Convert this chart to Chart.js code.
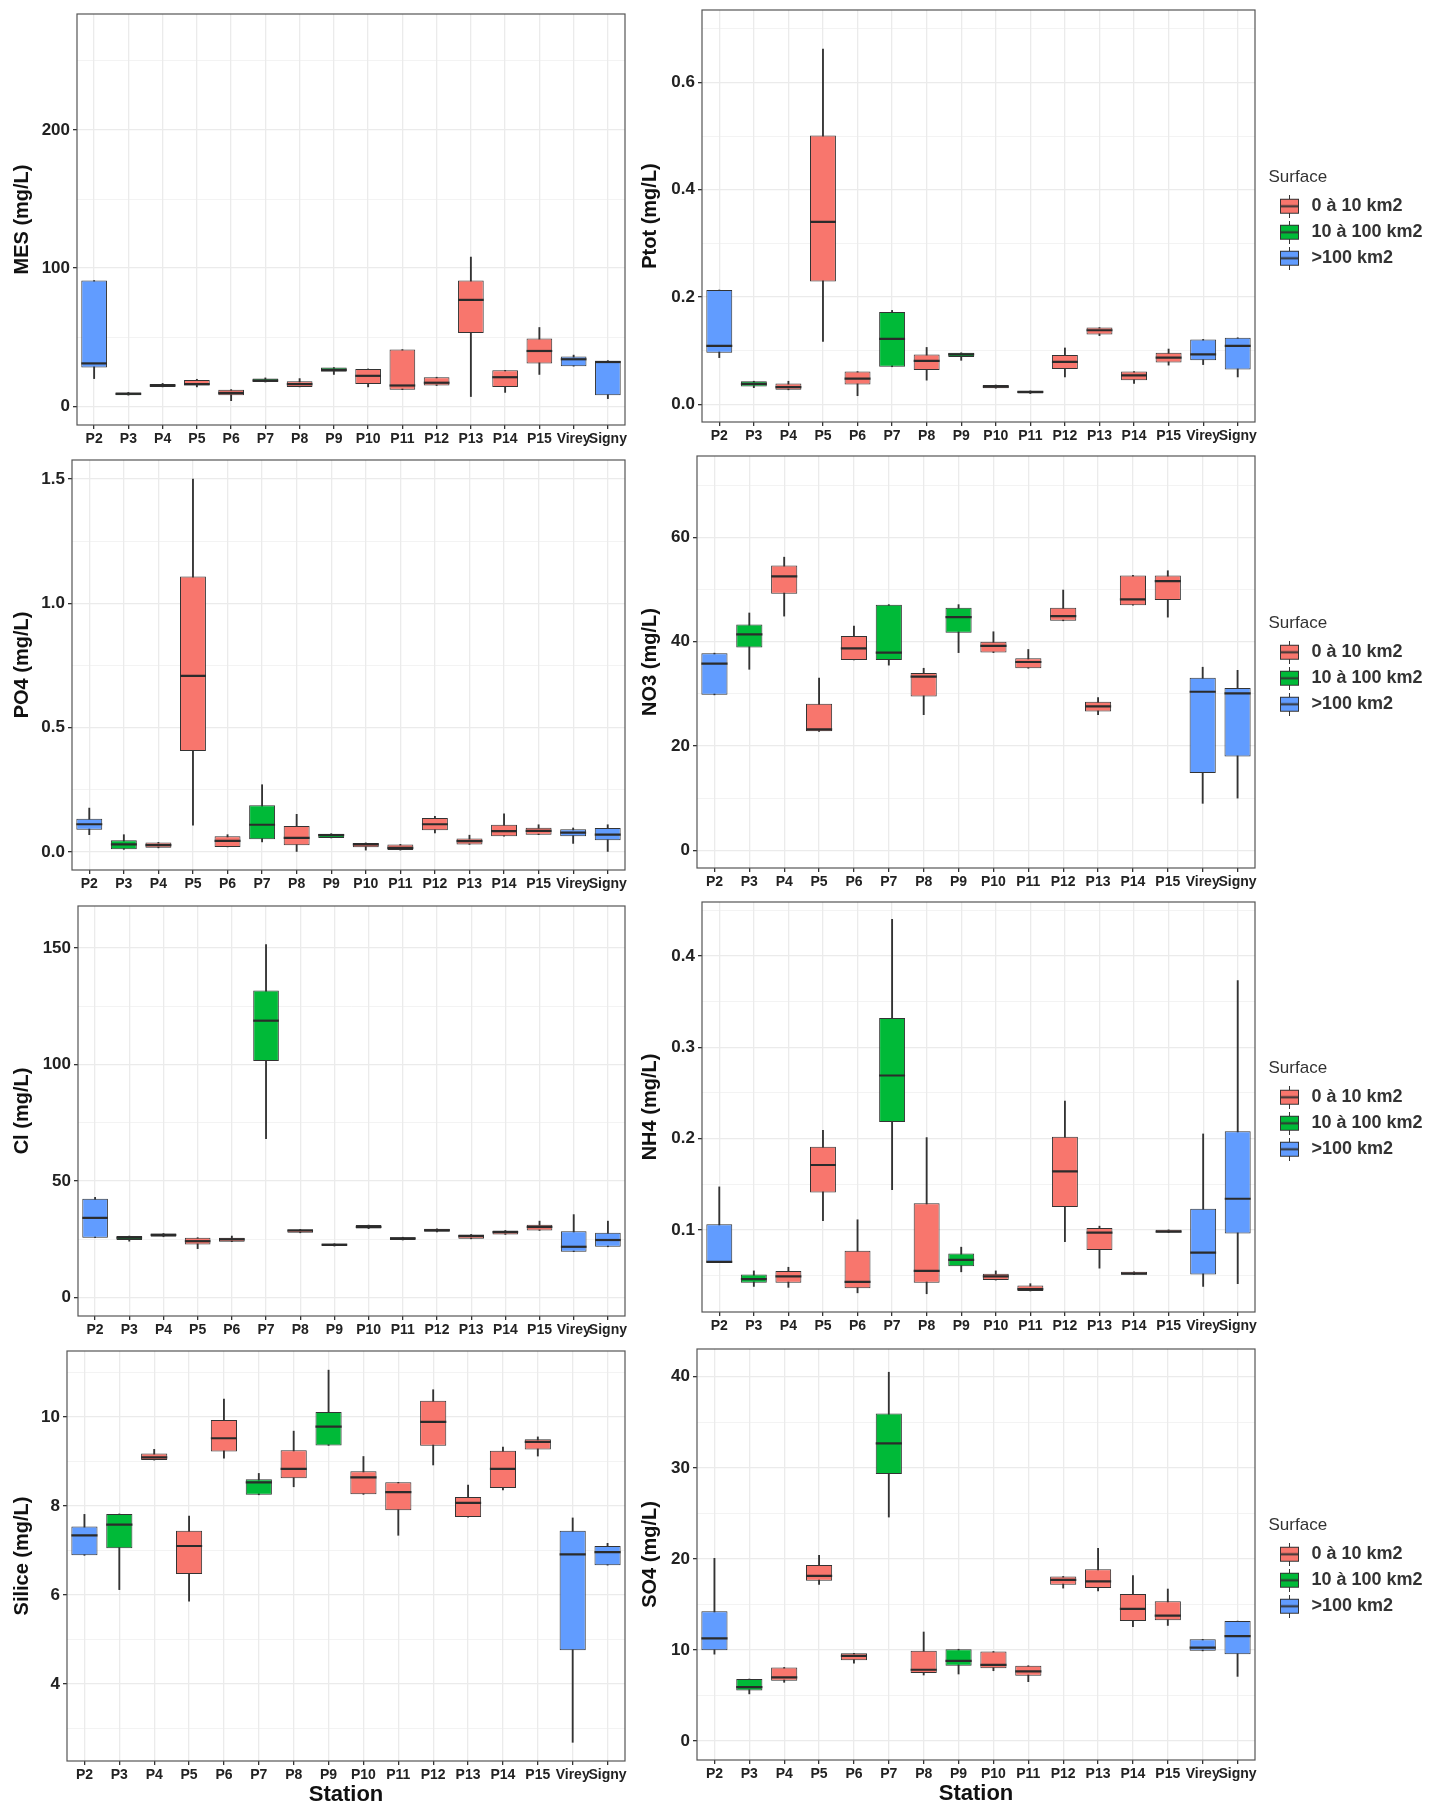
<!DOCTYPE html>
<html>
<head>
<meta charset="utf-8">
<title>Boxplots par station</title>
<script src="https://cdn.jsdelivr.net/npm/chart.js@4.4.1/dist/chart.umd.min.js"></script>
<style>
  body { margin: 0; background: #fff; }
  #fig { position: relative; width: 1437px; height: 1811px; overflow: hidden; }
  .panel { position: absolute; }
</style>
</head>
<body>
<div id="fig"></div>
<script>
// Stations (axe X) et classe de surface du bassin versant
const stations = ['P2', 'P3', 'P4', 'P5', 'P6', 'P7', 'P8', 'P9', 'P10', 'P11', 'P12', 'P13', 'P14', 'P15', 'Virey', 'Signy'];
const surfaceGroup = [2, 1, 0, 0, 0, 1, 0, 1, 0, 0, 0, 0, 0, 0, 2, 2];
const groupNames = ['0 à 10 km2', '10 à 100 km2', '>100 km2'];
const groupColors = ['#F8766D', '#00BA38', '#619CFF'];

// Résumés par station : [min, q1, médiane, q3, max]
const mes = [
  [20, 28, 31, 91, 91], [8, 8, 9, 10, 10], [14, 14, 15, 16, 16.5], [14, 15, 16, 19, 19.5],
  [4, 8, 9.6, 12, 12], [17.5, 17.5, 18.6, 20, 20.5], [14, 14, 16, 18, 20], [23, 25, 26.3, 28, 28],
  [14, 16, 22, 27, 27], [12, 12, 15, 41, 41], [15, 15, 17, 21, 21], [7, 53, 77, 91, 108],
  [10, 14, 21, 26, 26], [23, 31, 40, 49, 57], [29, 29, 34, 36, 37], [5.5, 8, 32, 33, 33]
];
const ptot = [
  [0.087, 0.096, 0.109, 0.213, 0.213], [0.031, 0.033, 0.038, 0.043, 0.043], [0.027, 0.027, 0.032, 0.039, 0.043], [0.117, 0.229, 0.340, 0.501, 0.662],
  [0.016, 0.037, 0.048, 0.061, 0.061], [0.070, 0.070, 0.122, 0.172, 0.175], [0.045, 0.064, 0.081, 0.093, 0.106], [0.082, 0.088, 0.093, 0.096, 0.096],
  [0.030, 0.030, 0.033, 0.036, 0.036], [0.020, 0.020, 0.023, 0.025, 0.025], [0.051, 0.066, 0.079, 0.092, 0.105], [0.128, 0.130, 0.138, 0.143, 0.143],
  [0.039, 0.045, 0.054, 0.061, 0.061], [0.073, 0.078, 0.087, 0.096, 0.103], [0.074, 0.082, 0.093, 0.121, 0.121], [0.051, 0.065, 0.109, 0.124, 0.124]
];
const po4 = [
  [0.07, 0.090, 0.112, 0.134, 0.177], [0.011, 0.011, 0.031, 0.048, 0.07], [0.017, 0.017, 0.028, 0.039, 0.039], [0.108, 0.407, 0.709, 1.108, 1.5],
  [0.021, 0.021, 0.045, 0.064, 0.07], [0.041, 0.052, 0.110, 0.188, 0.271], [0.0, 0.028, 0.057, 0.105, 0.152], [0.057, 0.057, 0.068, 0.074, 0.074],
  [0.008, 0.019, 0.031, 0.037, 0.037], [0.008, 0.008, 0.017, 0.031, 0.031], [0.077, 0.088, 0.112, 0.137, 0.144], [0.031, 0.031, 0.044, 0.055, 0.068],
  [0.064, 0.064, 0.084, 0.110, 0.154], [0.070, 0.070, 0.085, 0.098, 0.110], [0.035, 0.064, 0.078, 0.092, 0.097], [0.0, 0.048, 0.070, 0.097, 0.110]
];
const no3 = [
  [29.8, 29.8, 35.8, 37.8, 37.8], [34.7, 38.9, 41.4, 43.3, 45.5], [44.9, 49.2, 52.5, 54.6, 56.2], [22.8, 22.8, 23.2, 28.1, 33.0],
  [36.5, 36.5, 38.7, 41.1, 43.0], [35.5, 36.5, 37.9, 47.1, 47.1], [26.0, 29.5, 33.3, 34.0, 34.9], [37.9, 41.7, 44.7, 46.5, 47.1],
  [37.9, 37.9, 39.2, 40.0, 41.9], [34.9, 34.9, 36.1, 36.8, 38.5], [44.0, 44.0, 44.9, 46.5, 49.9], [26.0, 26.6, 27.6, 28.5, 29.3],
  [47.0, 47.0, 48.1, 52.7, 52.7], [44.7, 48.0, 51.6, 52.7, 53.6], [9.0, 14.8, 30.4, 33.1, 35.1], [10.0, 18.0, 30.1, 31.1, 34.5]
];
const cl = [
  [25.7, 25.7, 34.2, 42.4, 43], [24.2, 24.7, 25.7, 26.4, 26.4], [26.1, 26.1, 26.9, 27.5, 27.5], [21, 22.8, 24.2, 25.7, 25.7],
  [24, 24, 25, 25.7, 26.4], [68.2, 101.5, 118.8, 131.7, 151.4], [27.8, 27.8, 28.8, 29.2, 29.2], [22.1, 22.1, 22.7, 23.1, 23.1],
  [29.6, 29.6, 30.3, 31.1, 31.1], [24.7, 24.7, 25.4, 25.9, 25.9], [28.2, 28.2, 28.9, 29.5, 29.5], [25.2, 25.2, 26.4, 27.1, 27.1],
  [27.1, 27.1, 28.1, 28.8, 28.8], [28.8, 28.8, 30.3, 31.3, 32.8], [19.7, 19.7, 21.8, 28.5, 35.6], [21.8, 21.8, 24.7, 27.8, 32.8]
];
const nh4 = [
  [0.064, 0.064, 0.065, 0.106, 0.147], [0.038, 0.042, 0.046, 0.051, 0.055], [0.037, 0.042, 0.049, 0.055, 0.059], [0.110, 0.141, 0.171, 0.191, 0.209],
  [0.031, 0.036, 0.043, 0.077, 0.111], [0.144, 0.218, 0.269, 0.332, 0.440], [0.030, 0.042, 0.055, 0.129, 0.201], [0.054, 0.060, 0.067, 0.074, 0.081],
  [0.045, 0.045, 0.049, 0.052, 0.055], [0.033, 0.033, 0.035, 0.039, 0.041], [0.087, 0.125, 0.164, 0.202, 0.241], [0.058, 0.078, 0.097, 0.102, 0.104],
  [0.051, 0.051, 0.052, 0.054, 0.054], [0.097, 0.097, 0.098, 0.100, 0.100], [0.038, 0.051, 0.075, 0.123, 0.205], [0.041, 0.096, 0.134, 0.208, 0.373]
];
const silice = [
  [6.89, 6.89, 7.34, 7.54, 7.81], [6.12, 7.05, 7.58, 7.82, 7.82], [9.03, 9.03, 9.09, 9.18, 9.27], [5.86, 6.47, 7.10, 7.44, 7.77],
  [9.07, 9.22, 9.52, 9.93, 10.40], [8.25, 8.25, 8.53, 8.60, 8.73], [8.43, 8.62, 8.83, 9.25, 9.68], [9.36, 9.36, 9.78, 10.11, 11.05],
  [8.26, 8.26, 8.64, 8.78, 9.11], [7.34, 7.90, 8.31, 8.53, 8.53], [8.92, 9.35, 9.89, 10.36, 10.61], [7.75, 7.75, 8.07, 8.20, 8.47],
  [8.36, 8.40, 8.83, 9.24, 9.32], [9.12, 9.27, 9.44, 9.50, 9.55], [2.69, 4.76, 6.91, 7.44, 7.73], [6.67, 6.67, 6.96, 7.10, 7.16]
];
const so4 = [
  [9.55, 9.98, 11.29, 14.26, 20.07], [5.19, 5.55, 5.92, 6.82, 6.82], [6.46, 6.64, 7.0, 8.09, 8.09], [17.2, 17.6, 18.15, 19.35, 20.4],
  [8.57, 8.89, 9.36, 9.65, 9.65], [24.6, 29.33, 32.7, 35.97, 40.5], [7.26, 7.48, 7.84, 9.91, 11.98], [7.37, 8.28, 8.82, 10.09, 10.09],
  [7.73, 7.99, 8.38, 9.84, 9.84], [6.53, 7.19, 7.66, 8.28, 8.28], [16.8, 17.17, 17.71, 18.08, 18.08], [16.5, 16.8, 17.53, 18.87, 21.16],
  [12.56, 13.18, 14.52, 16.15, 18.18], [12.7, 13.28, 13.79, 15.35, 16.7], [9.91, 9.91, 10.27, 11.18, 11.18], [7.11, 9.55, 11.54, 13.18, 13.18]
];

// Graduations : principales (avec étiquette) et secondaires (grille fine)
const mesTicks = [0, 100, 200],            mesMinor = [50, 150, 250];
const ptotTicks = [0, 0.2, 0.4, 0.6],      ptotMinor = [0.1, 0.3, 0.5, 0.7];
const po4Ticks = [0, 0.5, 1, 1.5],         po4Minor = [0.25, 0.75, 1.25];
const no3Ticks = [0, 20, 40, 60],          no3Minor = [10, 30, 50, 70];
const clTicks = [0, 50, 100, 150],         clMinor = [25, 75, 125];
const nh4Ticks = [0.1, 0.2, 0.3, 0.4],     nh4Minor = [0.05, 0.15, 0.25, 0.35, 0.45];
const siliceTicks = [4, 6, 8, 10],         siliceMinor = [3, 5, 7, 9, 11];
const so4Ticks = [0, 10, 20, 30, 40],      so4Minor = [5, 15, 25, 35];

const sans = "'Liberation Sans', Arial, sans-serif";
const narrow = "'Liberation Sans Narrow', 'Liberation Sans', Arial, sans-serif";
Chart.defaults.font.family = sans;

// Mise en page des panneaux (zone de tracé en pixels de la page)
const panels = [
  { title: 'MES (mg/L)',  stats: mes,    major: mesTicks,    minor: mesMinor,    min: -13.6,  max: 284,   dec: 0, col: 0, left: 77,  top: 14,   bottom: 425 },
  { title: 'Ptot (mg/L)', stats: ptot,   major: ptotTicks,   minor: ptotMinor,   min: -0.033, max: 0.735, dec: 1, col: 1, left: 702, top: 10,   bottom: 422 },
  { title: 'PO4 (mg/L)',  stats: po4,    major: po4Ticks,    minor: po4Minor,    min: -0.072, max: 1.577, dec: 1, col: 0, left: 72,  top: 460,  bottom: 870 },
  { title: 'NO3 (mg/L)',  stats: no3,    major: no3Ticks,    minor: no3Minor,    min: -3.4,   max: 75.6,  dec: 0, col: 1, left: 697, top: 456,  bottom: 868 },
  { title: 'Cl (mg/L)',   stats: cl,     major: clTicks,     minor: clMinor,     min: -7.9,   max: 168,   dec: 0, col: 0, left: 78,  top: 906,  bottom: 1316 },
  { title: 'NH4 (mg/L)',  stats: nh4,    major: nh4Ticks,    minor: nh4Minor,    min: 0.010,  max: 0.459, dec: 1, col: 1, left: 702, top: 902,  bottom: 1312 },
  { title: 'Silice (mg/L)', stats: silice, major: siliceTicks, minor: siliceMinor, min: 2.27, max: 11.48, dec: 0, col: 0, left: 67,  top: 1351, bottom: 1761, station: true },
  { title: 'SO4 (mg/L)',  stats: so4,    major: so4Ticks,    minor: so4Minor,    min: -2.07,  max: 43.05, dec: 0, col: 1, left: 697, top: 1349, bottom: 1760, station: true }
];

// Petite icône de boîte à moustaches pour la légende
function keyIcon(color) {
  const c = document.createElement('canvas');
  c.width = 19; c.height = 23;
  const g = c.getContext('2d');
  g.strokeStyle = '#333';
  g.lineWidth = 1;
  g.beginPath(); g.moveTo(9.5, 0); g.lineTo(9.5, 23); g.stroke();
  g.fillStyle = color;
  g.fillRect(0.5, 4.5, 18, 14);
  g.strokeRect(0.5, 4.5, 18, 14);
  g.lineWidth = 2;
  g.beginPath(); g.moveTo(0.5, 11.5); g.lineTo(18.5, 11.5); g.stroke();
  return c;
}
const keyIcons = groupColors.map(keyIcon);

// Cadre du panneau (style theme_bw)
const panelBorder = {
  id: 'panelBorder',
  afterDatasetsDraw(chart) {
    const { ctx, chartArea: a } = chart;
    ctx.save();
    ctx.strokeStyle = '#555';
    ctx.lineWidth = 1.2;
    ctx.strokeRect(a.left, a.top, a.right - a.left, a.bottom - a.top);
    ctx.restore();
  }
};

// Largeur fixe de la légende pour aligner les colonnes de droite
const legendWidth = {
  id: 'legendWidth',
  beforeLayout(chart) {
    const lg = chart.legend;
    if (lg && !lg._fixed) {
      const fit = lg.fit;
      lg.fit = function () { fit.call(this); this.width = 168.5; };
      lg._fixed = true;
    }
  }
};

const fig = document.getElementById('fig');

function makeChart(p) {
  const colLeft = p.col ? 632 : 0;
  const colWidth = p.col ? 805 : 632;
  const padTop = 16;
  const xHeight = p.station ? 47 : 28;

  const div = document.createElement('div');
  div.className = 'panel';
  div.style.left = colLeft + 'px';
  div.style.top = (p.top - padTop) + 'px';
  div.style.width = colWidth + 'px';
  div.style.height = (p.bottom - p.top + padTop + xHeight) + 'px';
  const canvas = document.createElement('canvas');
  div.appendChild(canvas);
  fig.appendChild(div);

  const isMajor = v => p.major.includes(v);
  const allTicks = [...p.major, ...p.minor].sort((a, b) => a - b);

  // boîtes (q1 -> q3), une série par classe de surface
  const boxSets = groupNames.map((name, g) => ({
    type: 'bar',
    label: name,
    data: p.stats.map((s, i) => surfaceGroup[i] === g ? [s[1], s[3]] : null),
    backgroundColor: groupColors[g],
    borderColor: '#333',
    borderWidth: 1,
    borderSkipped: false,
    grouped: false,
    barPercentage: 0.75,
    categoryPercentage: 1,
    order: 1
  }));

  // moustaches (min -> max)
  const whiskers = {
    type: 'bar',
    label: 'moustaches',
    data: p.stats.map(s => [s[0], s[4]]),
    backgroundColor: '#333',
    barThickness: 1.2,
    grouped: false,
    order: 2
  };

  // médianes
  const medians = {
    type: 'line',
    label: 'médiane',
    data: p.stats.map(s => s[2]),
    showLine: false,
    pointStyle: 'line',
    pointRadius: ctx => ctx.chart.scales.x.width / stations.length * 0.75 / 2,
    pointBorderColor: '#2b2b2b',
    pointBorderWidth: 2.2,
    order: 0
  };

  const scales = {
    x: {
      offset: true,
      grid: { offset: false, color: '#ebebeb', lineWidth: 1.3, tickLength: 4, tickColor: '#333' },
      border: { display: false },
      ticks: { color: '#222', font: { size: 14, weight: 'bold', family: narrow }, maxRotation: 0, autoSkip: false, padding: 2 },
      title: { display: !!p.station, text: 'Station', color: '#111', font: { size: 22, weight: 'bold' }, padding: 0 },
      afterFit: s => { s.height = xHeight; }
    },
    y: {
      min: p.min,
      max: p.max,
      afterBuildTicks: s => { s.ticks = allTicks.map(v => ({ value: v })); },
      ticks: {
        autoSkip: false,
        color: '#222',
        padding: 3,
        font: { size: 17, weight: 'bold', family: narrow },
        callback: v => isMajor(v) ? v.toFixed(p.dec) : ''
      },
      grid: {
        color: '#ebebeb',
        lineWidth: c => isMajor(c.tick.value) ? 1.3 : 0.6,
        tickLength: 4,
        tickColor: c => isMajor(c.tick.value) ? '#333' : 'rgba(0,0,0,0)'
      },
      border: { display: false },
      title: {
        display: true,
        text: p.title,
        color: '#111',
        font: { size: 20, weight: 'bold' },
        padding: { top: p.col ? 6 : 10, bottom: 0 }
      },
      afterFit: s => { s.width = p.left - colLeft; }
    }
  };

  if (p.col) {
    // espace vide entre le cadre et la légende
    scales.gap = {
      type: 'linear',
      position: 'right',
      display: true,
      grid: { display: false },
      ticks: { display: false },
      border: { display: false },
      afterFit: s => { s.width = 13.5; }
    };
  }

  new Chart(canvas, {
    type: 'bar',
    data: { labels: stations, datasets: [...boxSets, whiskers, medians] },
    options: {
      responsive: true,
      maintainAspectRatio: false,
      animation: false,
      events: [],
      layout: { padding: { top: padTop, right: p.col ? 0 : 7, bottom: 0, left: 0 } },
      scales: scales,
      plugins: {
        tooltip: { enabled: false },
        legend: {
          display: !!p.col,
          position: 'right',
          align: 'center',
          title: { display: true, text: 'Surface', position: 'start', color: '#333', font: { size: 17 }, padding: { top: -16, bottom: 0 } },
          labels: {
            usePointStyle: true,
            pointStyleWidth: 26,
            padding: 8,
            color: '#1a1a1a',
            font: { size: 18, weight: 'bold' },
            generateLabels: () => groupNames.map((n, g) => ({
              text: n,
              pointStyle: keyIcons[g],
              fillStyle: groupColors[g],
              strokeStyle: '#333',
              lineWidth: 0,
              hidden: false,
              datasetIndex: g
            }))
          }
        }
      }
    },
    plugins: p.col ? [panelBorder, legendWidth] : [panelBorder]
  });
}

panels.forEach(makeChart);
</script>
</body>
</html>
